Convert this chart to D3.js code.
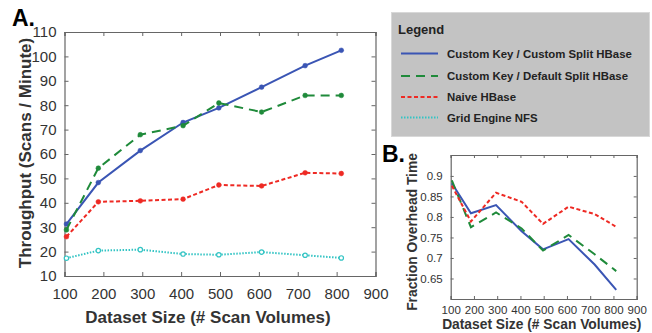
<!DOCTYPE html>
<html>
<head>
<meta charset="utf-8">
<script src="https://cdn.jsdelivr.net/npm/d3@7"></script>
<style>
  body { margin: 0; background: #fff; }
  svg { font-family: "Liberation Sans", Arial, sans-serif; }
</style>
</head>
<body>
<svg id="chart" width="652" height="333"></svg>
<script>
// dataset sizes (x) shared by all series
const sizes = [105, 187, 295, 405, 497, 607, 719, 812];

// panel A: throughput (scans / minute)
const customSplit = [31.3, 48.3, 61.4, 72.9, 78.9, 87.4, 96.2, 102.5];
const defaultSplit = [28.9, 54.2, 67.9, 71.6, 80.9, 77.2, 84.0, 84.0];
const naiveHBase = [26.1, 40.4, 40.8, 41.5, 47.3, 46.9, 52.3, 52.0];
const gridNFS = [17.3, 20.4, 20.8, 19.0, 18.7, 19.8, 18.5, 17.4];

// panel B: fraction overhead time
const customSplitB = [0.882, 0.809, 0.829, 0.765, 0.721, 0.746, 0.684, 0.622];
const defaultSplitB = [0.889, 0.775, 0.811, 0.772, 0.718, 0.756, 0.709, 0.668];
const naiveB = [0.876, 0.789, 0.859, 0.837, 0.783, 0.825, 0.807, 0.776];

const xTicks = [100, 200, 300, 400, 500, 600, 700, 800, 900];
const yTicksA = [10, 20, 30, 40, 50, 60, 70, 80, 90, 100, 110];
const yTicksB = [0.65, 0.7, 0.75, 0.8, 0.85, 0.9];

const legendNames = ["Custom Key / Custom Split HBase", "Custom Key / Default Split HBase",
  "Naive HBase", "Grid Engine NFS"];

const styles = [
  {color: "#3a55b4", dash: null, width: 2},
  {color: "#1f8a3a", dash: "9,6", width: 2},
  {color: "#ee2a24", dash: "4,2.5", width: 2},
  {color: "#33c4c4", dash: "1.5,1.5", width: 2}
];

const svg = d3.select("#chart");

function panel(opts) {
  const g = svg.append("g");
  const x = d3.scaleLinear().domain([100, 900]).range([opts.left, opts.right]);
  const y = d3.scaleLinear().domain(opts.yDomain).range([opts.bottom, opts.top]);
  const tk = opts.tickLen;

  // inward ticks on all four sides
  g.append("g").attr("transform", `translate(0,${opts.bottom})`)
    .call(d3.axisBottom(x).tickValues(xTicks).tickSize(-tk).tickPadding(opts.xPad + tk).tickFormat(d3.format("d")));
  g.append("g").attr("transform", `translate(0,${opts.top})`)
    .call(d3.axisTop(x).tickValues(xTicks).tickSize(-tk).tickFormat(""));
  g.append("g").attr("transform", `translate(${opts.left},0)`)
    .call(d3.axisLeft(y).tickValues(opts.yTicks).tickSize(-tk).tickPadding(opts.yPad + tk).tickFormat(opts.yFormat));
  g.append("g").attr("transform", `translate(${opts.right},0)`)
    .call(d3.axisRight(y).tickValues(opts.yTicks).tickSize(-tk).tickFormat(""));

  g.selectAll(".domain").attr("stroke", "#666").attr("stroke-width", 1.2);
  g.selectAll(".tick line").attr("stroke", "#666");
  g.selectAll(".tick text").attr("fill", "#333").style("font-size", opts.tickFont + "px");

  const line = d3.line().x((d, i) => x(sizes[i])).y(d => y(d));
  opts.series.forEach((vals, k) => {
    const s = styles[k];
    g.append("path").datum(vals)
      .attr("d", line)
      .attr("fill", "none")
      .attr("stroke", s.color)
      .attr("stroke-width", s.width)
      .attr("stroke-dasharray", s.dash);
    if (opts.markers) {
      g.selectAll(null).data(vals).enter().append("circle")
        .attr("cx", (d, i) => x(sizes[i]))
        .attr("cy", d => y(d))
        .attr("r", k === 3 ? 2.2 : 2.4)
        .attr("fill", k === 3 ? "#fff" : s.color)
        .attr("stroke", s.color)
        .attr("stroke-width", k === 3 ? 1.2 : 0.5);
    }
  });

  g.append("text")
    .attr("x", (opts.left + opts.right) / 2 + opts.xTitleDx)
    .attr("y", opts.xTitleY)
    .attr("text-anchor", "middle")
    .attr("font-weight", "bold")
    .attr("fill", "#333")
    .style("font-size", opts.titleFont + "px")
    .text("Dataset Size (# Scan Volumes)");
  g.append("text")
    .attr("transform", `translate(${opts.yTitleX},${opts.yTitleCy}) rotate(-90)`)
    .attr("text-anchor", "middle")
    .attr("font-weight", "bold")
    .attr("fill", "#333")
    .style("font-size", opts.titleFont + "px")
    .text(opts.yTitle);
  g.append("text")
    .attr("x", opts.labelX).attr("y", opts.labelY)
    .attr("font-weight", "bold")
    .style("font-size", "23px")
    .text(opts.label);
}

panel({
  left: 64.5, right: 375.5, top: 32, bottom: 276,
  yDomain: [10, 110], yTicks: yTicksA, yFormat: d3.format("d"),
  tickLen: 4, xPad: 8, yPad: 4, tickFont: 15, titleFont: 17,
  series: [customSplit, defaultSplit, naiveHBase, gridNFS], markers: true,
  xTitleY: 323, xTitleDx: -12, yTitleX: 31, yTitleCy: 153,
  yTitle: "Throughput (Scans / Minute)",
  label: "A.", labelX: 12, labelY: 26
});

panel({
  left: 450.7, right: 636.7, top: 155, bottom: 299,
  yDomain: [0.6, 0.951], yTicks: yTicksB, yFormat: d => String(d),
  tickLen: 3, xPad: 4, yPad: 5, tickFont: 11.5, titleFont: 13.8,
  series: [customSplitB, defaultSplitB, naiveB], markers: false,
  xTitleY: 329, xTitleDx: -2, yTitleX: 417, yTitleCy: 232,
  yTitle: "Fraction Overhead Time",
  label: "B.", labelX: 382, labelY: 162
});

// legend box
const lg = svg.append("g");
lg.append("rect").attr("x", 391.5).attr("y", 12.5).attr("width", 258).attr("height", 124)
  .attr("fill", "#c3c3c3").attr("stroke", "#d8d8d8");
lg.append("text").attr("x", 398).attr("y", 34).attr("fill", "#222")
  .attr("font-weight", "bold").style("font-size", "13px").text("Legend");
const rowY = [53.5, 76, 97, 117.5];
legendNames.forEach((name, k) => {
  const s = styles[k];
  lg.append("line").attr("x1", 401).attr("x2", 438).attr("y1", rowY[k]).attr("y2", rowY[k])
    .attr("stroke", s.color).attr("stroke-width", s.width).attr("stroke-dasharray", s.dash);
  lg.append("text").attr("x", 447).attr("y", rowY[k] + 4).attr("fill", "#222")
    .attr("font-weight", "bold").style("font-size", "11.4px").text(name);
});
</script>
</body>
</html>
